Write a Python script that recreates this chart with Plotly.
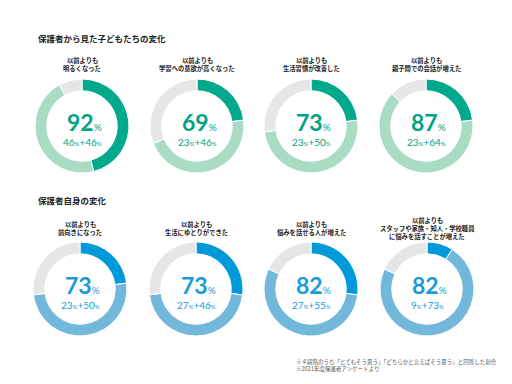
import plotly.graph_objects as go

W, H = 512, 384

section_titles = ["保護者から見た子どもたちの変化", "保護者自身の変化"]

top_labels = [["以前よりも", "明るくなった"], ["以前よりも", "学習への意欲が高くなった"],
              ["以前よりも", "生活習慣が改善した"], ["以前よりも", "親子間での会話が増えた"]]
top_total = [92, 69, 73, 87]
top_strong = [46, 23, 23, 23]
top_some = [46, 46, 50, 64]

bot_labels = [["以前よりも", "前向きになった"], ["以前よりも", "生活にゆとりができた"],
              ["以前よりも", "悩みを話せる人が増えた"],
              ["以前よりも", "スタッフや家族・知人・学校職員", "に悩みを話すことが増えた"]]
bot_total = [73, 73, 82, 82]
bot_strong = [23, 27, 27, 9]
bot_some = [50, 46, 55, 73]

notes = ["※４段階のうち「とてもそう思う」「どちらかと言えばそう思う」と回答した割合",
         "※2021年度保護者アンケートより"]

green = ["#00A98B", "#A9DCC3", "#E6E6E6"]
blue = ["#0099D9", "#72B8DA", "#E6E6E6"]
green_text = "#00A384"
blue_text = "#1A9BD7"

top_cx = [74, 189, 303, 418]
bot_cx = [72, 188, 303, 419]
top_cy, bot_cy = 118, 281
R = 47

JP = "Noto Sans CJK JP"
NUM = "Lato"
LINE = 7.8

fig = go.Figure()
ann = []

def px_x(x):
    return x / W

def px_y(y):
    return 1 - y / H

def add_row(cxs, cy, labels, totals, strong, some, colors, tcolor, label_cy):
    for cx, lab, t, s, o in zip(cxs, labels, totals, strong, some):
        rest = 100 - s - o
        fig.add_trace(go.Pie(
            values=[s, o, rest], labels=["とてもそう思う", "どちらかと言えばそう思う", "その他"],
            sort=False, direction="clockwise", rotation=0, hole=0.75,
            marker=dict(colors=colors, line=dict(color="white", width=1)),
            textinfo="none", hoverinfo="label+value", showlegend=False,
            domain=dict(x=[px_x(cx - R), px_x(cx + R)], y=[px_y(cy + R), px_y(cy - R)]),
        ))
        ann.append(dict(x=px_x(cx + 2), y=px_y(cy - 4), xref="paper", yref="paper",
                        text=f"<b>{t}</b><span style='font-size:10px'>%</span>",
                        showarrow=False, font=dict(family=NUM, size=23, color=tcolor),
                        xanchor="center", yanchor="middle", borderpad=0))
        ann.append(dict(x=px_x(cx), y=px_y(cy + 16), xref="paper", yref="paper",
                        text=f"{s}<span style='font-size:6px'>%</span>+{o}<span style='font-size:6px'>%</span>",
                        showarrow=False, font=dict(family=NUM, size=10, color=tcolor),
                        xanchor="center", yanchor="middle", borderpad=0))
        n = len(lab)
        for i, line in enumerate(lab):
            y = label_cy + (i - (n - 1) / 2) * LINE
            ann.append(dict(x=px_x(cx), y=px_y(y), xref="paper", yref="paper",
                            text=f"<b>{line}</b>", showarrow=False,
                            font=dict(family=JP, size=6.3, color="#222"),
                            xanchor="center", yanchor="middle", borderpad=0))

add_row(top_cx, top_cy, top_labels, top_total, top_strong, top_some, green, green_text, 56.5)
add_row(bot_cx, bot_cy, bot_labels, bot_total, bot_strong, bot_some, blue, blue_text, 220.5)

for txt, y in zip(section_titles, [30, 192]):
    ann.append(dict(x=px_x(28), y=px_y(y), xref="paper", yref="paper", text=f"<b>{txt}</b>",
                    showarrow=False, font=dict(family=JP, size=8.5, color="#222"),
                    xanchor="left", yanchor="middle"))

for txt, y in zip(notes, [354, 361]):
    ann.append(dict(x=px_x(287), y=px_y(y), xref="paper", yref="paper", text=txt,
                    showarrow=False, font=dict(family=JP, size=5.5, color="#555"),
                    xanchor="left", yanchor="middle", borderpad=0))

fig.update_layout(width=W, height=H, margin=dict(l=0, r=0, t=0, b=0),
                  paper_bgcolor="white", plot_bgcolor="white", annotations=ann)

fig.write_html("out.html")
